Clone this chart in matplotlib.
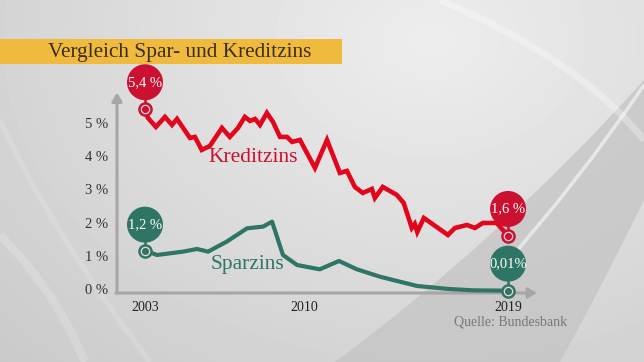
import numpy as np
import matplotlib.pyplot as plt
from matplotlib.patches import Circle, PathPatch, Rectangle
from matplotlib.path import Path
from matplotlib.transforms import IdentityTransform

# ---------------- data ----------------
kredit_jahr = [2003.0, 2003.13, 2003.48, 2003.88, 2004.19, 2004.41, 2004.98, 2005.2,
               2005.5, 2005.86, 2006.39, 2006.74, 2007.1, 2007.4, 2007.63, 2007.85,
               2008.07, 2008.37, 2008.64, 2008.95, 2009.26, 2009.48, 2009.83, 2010.49,
               2011.02, 2011.59, 2011.9, 2012.25, 2012.6, 2013.0, 2013.13, 2013.48,
               2014.1, 2014.4, 2014.76, 2014.89, 2015.0, 2015.29, 2016.35, 2016.66,
               2017.19, 2017.54, 2017.89, 2018.5, 2019.0]
kredit_zins = [5.45, 5.19, 4.92, 5.22, 4.98, 5.16, 4.59, 4.62,
               4.23, 4.35, 4.89, 4.62, 4.89, 5.22, 5.10, 5.16,
               4.98, 5.34, 5.07, 4.62, 4.62, 4.47, 4.53, 3.69,
               4.53, 3.54, 3.60, 3.12, 2.94, 3.06, 2.79, 3.12,
               2.88, 2.64, 1.89, 2.01, 1.77, 2.19, 1.68, 1.89,
               1.98, 1.89, 2.04, 2.04, 1.65]

spar_jahr = [2003.0, 2003.53, 2004.67, 2005.29, 2005.78, 2006.6, 2007.5, 2008.2,
             2008.6, 2009.08, 2009.7, 2010.7, 2011.55, 2012.34, 2013.35, 2014.23,
             2015.0, 2016.4, 2017.2, 2017.45, 2019.0]
spar_zins = [1.21, 1.08, 1.18, 1.26, 1.18, 1.48, 1.88, 1.93,
             2.08, 1.08, 0.78, 0.65, 0.90, 0.65, 0.43, 0.28,
             0.15, 0.06, 0.03, 0.02, 0.01]

y_ticks = [0, 1, 2, 3, 4, 5]
y_labels = ["0 %", "1 %", "2 %", "3 %", "4 %", "5 %"]
x_ticks = [2003, 2010, 2019]

start_label = {"kredit": "5,4 %", "spar": "1,2 %"}
end_label = {"kredit": "1,6 %", "spar": "0,01%"}

ROT = "#cc1030"
ROT_LINIE = "#e3051b"
GRUEN = "#2f7566"
GRAU = "#a6a6a6"
SERIF = ["Liberation Serif", "DejaVu Serif"]

W, H = 644, 362
fig = plt.figure(figsize=(W / 100, H / 100), dpi=100)

# ---------------- background (pixel coordinates) ----------------
bg = fig.add_axes([0, 0, 1, 1], zorder=0)
bg.set_xlim(0, W)
bg.set_ylim(H, 0)
bg.axis("off")

yy, xx = np.mgrid[0:H, 0:W]
grad = 0.93 - 0.11 * np.hypot((xx - 430) / 480, (yy - 40) / 360)
bg.imshow(grad, cmap="gray", vmin=0, vmax=1, extent=(0, W, H, 0), zorder=0)

# darker swoosh band lower right
dark = Path([(335, 362), (500, 240), (644, 80), (644, 200), (600, 290), (560, 362),
             (335, 362)],
            [Path.MOVETO, Path.CURVE3, Path.CURVE3, Path.LINETO, Path.CURVE3,
             Path.CURVE3, Path.CLOSEPOLY])
bg.add_patch(PathPatch(dark, fc="#c4c4c4", ec="none", alpha=0.75, zorder=1))
# soft white arcs
for pts, lw, a in [([(440, 0), (580, 60), (644, 140)], 5, 0.3),
                   ([(500, 270), (580, 180), (644, 85)], 2.5, 0.55),
                   ([(0, 235), (55, 290), (85, 362)], 6, 0.18),
                   ([(0, 120), (50, 230), (150, 362)], 4, 0.14)]:
    p = Path(pts, [Path.MOVETO, Path.CURVE3, Path.CURVE3])
    bg.add_patch(PathPatch(p, fc="none", ec="white", lw=lw, alpha=a, zorder=1))

# title bar
bg.add_patch(Rectangle((0, 39), 342, 25, fc="#f0bb3c", ec="none", zorder=2))
bg.text(48, 52, "Vergleich Spar- und Kreditzins", family=SERIF, fontsize=15.3,
        color="#3b2e1c", ha="left", va="center", zorder=3)

# ---------------- chart (data coordinates over the whole figure) ----------------
ax = fig.add_axes([0, 0, 1, 1], zorder=1)
ax.patch.set_alpha(0)
ax.axis("off")
px_per_year = 22.69
px_per_pct = 33.35
ax.set_xlim(2003 - 145 / px_per_year, 2003 + (W - 145) / px_per_year)
ax.set_ylim(-(H - 291) / px_per_pct, 291 / px_per_pct)

# axis arrows
x_left = 2003 - 28 / px_per_year
ax.annotate("", xy=(x_left, 5.95), xytext=(x_left, -0.06),
            arrowprops=dict(arrowstyle="-|>,head_length=0.5,head_width=0.3",
                            color=GRAU, lw=2.2, shrinkA=0, shrinkB=0))
ax.annotate("", xy=(2003 + 392 / px_per_year, -0.06), xytext=(x_left - 0.05, -0.06),
            arrowprops=dict(arrowstyle="-|>,head_length=0.5,head_width=0.3",
                            color=GRAU, lw=2.2, shrinkA=0, shrinkB=0))

for v, lab in zip(y_ticks, y_labels):
    ax.text(x_left - 0.4, v, lab, family=SERIF, fontsize=10.5, color="#333333",
            ha="right", va="center")
for yr in x_ticks:
    ax.text(yr, -0.5, str(yr), family=SERIF, fontsize=10, color="#222222",
            ha="center", va="center")
ax.text(2019.1, -0.93, "Quelle: Bundesbank", family=SERIF, fontsize=10,
        color="#777777", ha="center", va="center")

ax.plot(kredit_jahr, kredit_zins, color=ROT_LINIE, lw=3.3, solid_joinstyle="miter",
        zorder=3)
ax.plot(spar_jahr, spar_zins, color=GRUEN, lw=3.0, zorder=3)

ax.text(2007.76, 4.0, "Kreditzins", family=SERIF, fontsize=15.5, color=ROT,
        ha="center", va="center")
ax.text(2007.5, 0.78, "Sparzins", family=SERIF, fontsize=15.5, color=GRUEN,
        ha="center", va="center")

# bubbles with ring markers
fig.canvas.draw()
def bubble(x, y, text, color, dy_px=27, r=18):
    px, py = ax.transData.transform((x, y))
    cx, cy = px, py + dy_px
    ax.plot([px, cx], [py, cy], color=color, lw=1.8, transform=IdentityTransform(),
            zorder=4)
    ax.add_patch(Circle((cx, cy), r, fc=color, ec="none", transform=IdentityTransform(),
                        zorder=5))
    ax.text(cx, cy, text, family=SERIF, fontsize=10.5, color="white", ha="center",
            va="center", transform=IdentityTransform(), zorder=6)
    ax.plot([x], [y], marker="o", ms=9.5, color=color, mec=color, zorder=6)
    ax.plot([x], [y], marker="o", ms=6, mfc=color, mec="#f3d5d8", mew=0.9, zorder=7)

bubble(kredit_jahr[0], kredit_zins[0], start_label["kredit"], ROT, dy_px=27)
bubble(spar_jahr[0], spar_zins[0], start_label["spar"], GRUEN, dy_px=26)
bubble(kredit_jahr[-1], kredit_zins[-1], end_label["kredit"], ROT, dy_px=27)
bubble(spar_jahr[-1], spar_zins[-1], end_label["spar"], GRUEN, dy_px=27)

fig.savefig("out.png", dpi=100)
